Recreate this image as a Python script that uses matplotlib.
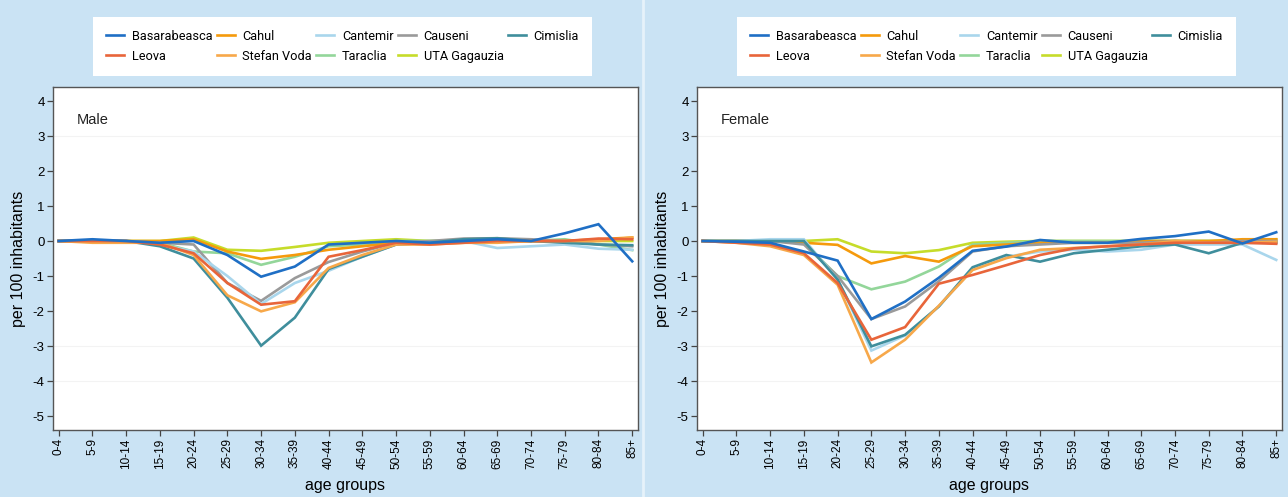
import matplotlib
matplotlib.use("Agg")
import matplotlib.pyplot as plt
from matplotlib.lines import Line2D

age_groups = ["0-4", "5-9", "10-14", "15-19", "20-24", "25-29", "30-34", "35-39", "40-44",
              "45-49", "50-54", "55-59", "60-64", "65-69", "70-74", "75-79", "80-84", "85+"]

districts = ["Basarabeasca", "Leova", "Cahul", "Stefan Voda", "Cantemir", "Taraclia",
             "Causeni", "UTA Gagauzia", "Cimislia"]

colors = {
    "Basarabeasca": "#1f6fc5",
    "Cahul": "#f59a0c",
    "Cantemir": "#a9d6ec",
    "Causeni": "#9a9a9a",
    "Cimislia": "#3f8e9c",
    "Leova": "#e8653a",
    "Stefan Voda": "#f7a84a",
    "Taraclia": "#93d69a",
    "UTA Gagauzia": "#c6dc2a",
}

male_basarabeasca = [0, 0.05, 0, -0.05, 0.0, -0.4, -1.02, -0.73, -0.1, -0.05, 0.0, -0.05, 0.0, 0.05, 0.0, 0.22, 0.48, -0.58]
male_leova = [0, 0, 0, -0.1, -0.35, -1.2, -1.82, -1.72, -0.45, -0.26, -0.05, -0.1, -0.05, 0, 0, 0, 0.07, 0.05]
male_cahul = [0, 0, 0, 0, 0.05, -0.3, -0.51, -0.4, -0.25, -0.15, -0.05, -0.05, -0.05, 0, 0, 0, 0.05, 0.1]
male_stefan_voda = [0, -0.05, -0.05, -0.05, -0.4, -1.55, -2.01, -1.75, -0.77, -0.4, -0.1, -0.1, -0.05, -0.05, 0, 0, 0, 0.1]
male_cantemir = [0, 0, 0, -0.1, -0.3, -1.0, -1.8, -1.2, -0.85, -0.45, -0.1, -0.05, 0, -0.2, -0.15, -0.1, -0.22, -0.25]
male_taraclia = [0, 0, 0, -0.05, -0.3, -0.35, -0.68, -0.45, -0.15, -0.1, 0, 0, 0, 0, 0, 0.05, -0.1, -0.26]
male_causeni = [0, 0, 0, -0.05, -0.1, -1.2, -1.71, -1.06, -0.6, -0.3, -0.05, 0, 0.07, 0.08, 0.05, 0, -0.1, -0.15]
male_uta = [0, 0, 0, 0.0, 0.1, -0.25, -0.28, -0.17, -0.05, 0, 0.05, 0, 0, 0, 0, 0, 0, 0]
male_cimislia = [0, 0, 0, -0.15, -0.5, -1.62, -2.99, -2.19, -0.8, -0.45, -0.1, -0.05, 0.05, 0.08, 0, -0.05, -0.1, -0.12]

female_basarabeasca = [0, -0.02, -0.05, -0.3, -0.56, -2.23, -1.73, -1.05, -0.28, -0.16, 0.03, -0.05, -0.05, 0.06, 0.14, 0.27, -0.07, 0.25]
female_leova = [0, -0.05, -0.1, -0.35, -1.2, -2.82, -2.46, -1.22, -0.97, -0.69, -0.4, -0.21, -0.15, -0.1, -0.05, -0.05, -0.05, -0.08]
female_cahul = [0, 0, 0, -0.05, -0.11, -0.64, -0.43, -0.59, -0.15, -0.1, -0.05, -0.05, -0.05, 0, 0, 0, 0.05, 0.05]
female_stefan_voda = [0, -0.05, -0.15, -0.4, -1.25, -3.47, -2.82, -1.85, -0.83, -0.49, -0.25, -0.2, -0.15, -0.1, 0, -0.05, -0.05, -0.02]
female_cantemir = [0, 0, 0.05, 0.05, -1.1, -3.13, -2.7, -1.87, -0.8, -0.45, -0.3, -0.25, -0.3, -0.25, -0.1, -0.1, -0.1, -0.54]
female_taraclia = [0, 0, 0, -0.05, -1.0, -1.38, -1.16, -0.73, -0.1, -0.05, 0, 0, 0, 0, 0, 0, 0, 0]
female_causeni = [0, 0, 0, -0.1, -1.0, -2.23, -1.87, -1.15, -0.3, -0.15, -0.1, -0.05, -0.05, -0.05, 0, -0.05, 0, 0]
female_uta = [0, 0, 0, 0, 0.05, -0.3, -0.35, -0.26, -0.05, -0.02, 0, 0, 0, 0, 0, 0, 0, 0.05]
female_cimislia = [0, 0, 0, 0, -1.1, -3.01, -2.68, -1.87, -0.75, -0.4, -0.59, -0.35, -0.25, -0.15, -0.1, -0.35, -0.05, -0.05]

male = {
    "Basarabeasca": male_basarabeasca, "Leova": male_leova, "Cahul": male_cahul,
    "Stefan Voda": male_stefan_voda, "Cantemir": male_cantemir, "Taraclia": male_taraclia,
    "Causeni": male_causeni, "UTA Gagauzia": male_uta, "Cimislia": male_cimislia,
}
female = {
    "Basarabeasca": female_basarabeasca, "Leova": female_leova, "Cahul": female_cahul,
    "Stefan Voda": female_stefan_voda, "Cantemir": female_cantemir, "Taraclia": female_taraclia,
    "Causeni": female_causeni, "UTA Gagauzia": female_uta, "Cimislia": female_cimislia,
}

draw_order = ["UTA Gagauzia", "Taraclia", "Cahul", "Causeni", "Cantemir", "Cimislia",
              "Stefan Voda", "Leova", "Basarabeasca"]

plt.rcParams["font.family"] = ["Liberation Sans", "DejaVu Sans"]
plt.rcParams["axes.unicode_minus"] = False

fig = plt.figure(figsize=(12.88, 4.97), dpi=100)
fig.patch.set_facecolor("#cae3f4")

axes_pos = [[0.0411, 0.1348, 0.4542, 0.6901], [0.5411, 0.1348, 0.4542, 0.6901]]
panels = [("Male", male), ("Female", female)]
legend_x = [0.2659, 0.7660]

x = list(range(len(age_groups)))
for pos, (title, data), lx in zip(axes_pos, panels, legend_x):
    ax = fig.add_axes(pos)
    ax.set_facecolor("white")
    for name in draw_order:
        ax.plot(x, data[name], color=colors[name], lw=1.9, solid_joinstyle="miter")
    ax.set_xlim(-0.17, 17.17)
    ax.set_ylim(-5.4, 4.4)
    ax.set_yticks(range(-5, 5))
    ax.set_xticks(x)
    ax.set_xticklabels(age_groups, rotation=90, fontsize=8.5)
    ax.tick_params(axis="y", labelsize=9.5, length=4, width=0.9, color="#444444", pad=2)
    ax.tick_params(axis="x", length=4, width=0.9, color="#444444", pad=2)
    for s in ax.spines.values():
        s.set_color("#555555")
        s.set_linewidth(1.0)
    for yv in [3, -3, -4]:
        ax.axhline(yv, color="#f3f3f3", lw=0.8, zorder=0)
    ax.set_xlabel("age groups", fontsize=11.5, labelpad=7)
    ax.set_ylabel("per 100 inhabitants", fontsize=11.5, labelpad=5)
    ax.text(0.041, 0.905, title, transform=ax.transAxes, fontsize=10.5,
            ha="left", va="center", color="#222222")

    handles = [Line2D([0], [0], color=colors[n], lw=1.9) for n in districts]
    leg = fig.legend(handles, districts, loc="center", bbox_to_anchor=(lx, 0.907),
                     ncol=5, frameon=True, fancybox=False, framealpha=1,
                     prop={"family": "Roboto", "size": 9.2},
                     handlelength=1.4, handletextpad=0.6, columnspacing=0.35,
                     labelspacing=0.55, borderpad=1.0)
    leg.get_frame().set_facecolor("white")
    leg.get_frame().set_edgecolor("white")
    leg.get_frame().set_linewidth(0)

fig.add_artist(Line2D([0.4996, 0.4996], [0, 1], color="#e6f2fa", lw=2, transform=fig.transFigure))

fig.savefig("out.png", dpi=100, facecolor=fig.get_facecolor())
